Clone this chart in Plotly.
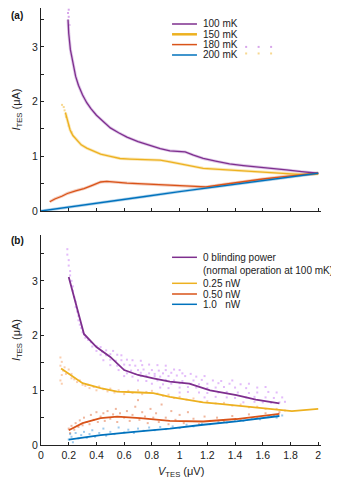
import plotly.graph_objects as go

# ---- panel (a): I-V curves at four bath temperatures ----
a_names = ["100 mK", "150 mK", "180 mK", "200 mK"]

a100_x = [0.195, 0.2, 0.212, 0.23, 0.25, 0.27, 0.3, 0.33, 0.36, 0.4, 0.45, 0.5, 0.56, 0.62, 0.7,
          0.78, 0.86, 0.93, 1.0, 1.04, 1.1, 1.17, 1.26, 1.36, 1.46, 1.56, 1.66, 1.77, 1.88, 2.0]
a100_y = [3.5, 3.25, 2.95, 2.68, 2.46, 2.3, 2.12, 1.98, 1.87, 1.75, 1.63, 1.52, 1.43, 1.35, 1.27,
          1.2, 1.14, 1.1, 1.09, 1.08, 1.02, 0.96, 0.91, 0.86, 0.83, 0.8, 0.77, 0.75, 0.72, 0.69]

a150_x = [0.176, 0.19, 0.21, 0.23, 0.257, 0.29, 0.33, 0.38, 0.43, 0.5, 0.57, 0.64, 0.715, 0.79,
          0.86, 0.93, 1.0, 1.07, 1.17, 1.29, 1.41, 1.53, 1.65, 1.76, 1.86, 1.94, 2.0]
a150_y = [1.8, 1.65, 1.48, 1.38, 1.3, 1.21, 1.15, 1.09, 1.04, 1.0, 0.96, 0.95, 0.94, 0.94,
          0.93, 0.9, 0.87, 0.83, 0.78, 0.76, 0.74, 0.72, 0.7, 0.68, 0.67, 0.67, 0.68]

a180_x = [0.063, 0.1, 0.15, 0.19, 0.25, 0.31, 0.37, 0.43, 0.475, 0.55, 0.62, 0.7, 0.786, 0.86,
          0.93, 1.0, 1.07, 1.13, 1.19, 1.3, 1.45, 1.6, 1.75, 1.9, 2.0]
a180_y = [0.17, 0.22, 0.27, 0.32, 0.37, 0.41, 0.47, 0.53, 0.54, 0.52, 0.51, 0.5, 0.49, 0.48,
          0.47, 0.465, 0.46, 0.45, 0.44, 0.48, 0.535, 0.585, 0.63, 0.665, 0.69]

a200_x = [0.0, 0.25, 0.5, 0.75, 1.0, 1.25, 1.5, 1.75, 2.0]
a200_y = [0.0, 0.085, 0.175, 0.265, 0.355, 0.44, 0.525, 0.61, 0.69]

# loose measurement points in (a)
a100_pts_x = [0.19, 0.19, 0.195, 0.2, 0.2, 0.205, 1.48, 1.57, 1.66]
a100_pts_y = [3.83, 3.75, 3.62, 3.55, 3.68, 3.4, 3.0, 3.0, 3.0]
a150_pts_x = [0.152, 0.164, 0.17, 0.18, 0.2, 0.22, 1.48, 1.57, 1.66]
a150_pts_y = [1.94, 1.9, 1.84, 1.72, 1.56, 1.44, 2.88, 2.88, 2.88]

# ---- panel (b): I-V curves under blinding power ----
b_names = ["0 blinding power", "0.25 nW", "0.50 nW", "1.0\u00a0\u00a0\u00a0nW"]

b0_x = [0.2, 0.31, 0.4, 0.5, 0.6, 0.7, 0.81, 0.93, 1.07, 1.22, 1.41, 1.55, 1.72]
b0_y = [3.07, 2.03, 1.79, 1.61, 1.37, 1.28, 1.22, 1.16, 1.12, 1.0, 0.91, 0.83, 0.76]

b25_x = [0.145, 0.21, 0.3, 0.43, 0.55, 0.715, 0.81, 0.93, 1.07, 1.17, 1.29, 1.53, 1.81, 2.0]
b25_y = [1.4, 1.28, 1.13, 1.04, 0.975, 0.96, 0.95, 0.88, 0.82, 0.78, 0.75, 0.69, 0.62, 0.66]

b50_x = [0.2, 0.3, 0.43, 0.55, 0.715, 0.93, 1.17, 1.41, 1.72]
b50_y = [0.27, 0.4, 0.49, 0.52, 0.49, 0.44, 0.43, 0.475, 0.57]

b100_x = [0.2, 0.43, 0.67, 0.93, 1.17, 1.41, 1.72]
b100_y = [0.1, 0.18, 0.24, 0.3, 0.37, 0.43, 0.53]

# raw points in (b)
b0_pts_x = [0.19, 0.19, 0.2, 0.2, 0.21, 0.21, 0.22, 0.23, 0.23, 0.24, 0.25, 0.25, 0.26, 0.27, 0.27,
            0.28, 0.29, 0.3, 0.31, 0.32, 0.34, 0.36,
            0.37, 0.4, 0.43,
            0.4, 0.44, 0.47, 0.52,
            0.43, 0.47, 0.5, 0.55, 0.58,
            0.45, 0.5, 0.54, 0.58, 0.62, 0.66, 0.72,
            0.5, 0.55, 0.6, 0.64, 0.68, 0.73, 0.78, 0.84, 0.9,
            0.56, 0.6, 0.65, 0.7, 0.74, 0.8, 0.85, 0.9, 0.96, 1.0,
            0.62, 0.68, 0.72, 0.78, 0.82, 0.88, 0.94, 1.02, 1.08,
            0.6, 0.66, 0.72, 0.76, 0.82, 0.86, 0.92, 0.98, 1.04, 1.12, 1.18,
            0.7, 0.76, 0.84, 0.9, 0.96, 1.02, 1.1, 1.16, 1.24, 1.3, 1.38,
            0.8, 0.88, 0.94, 1.0, 1.08, 1.14, 1.2, 1.28, 1.36, 1.44, 1.5,
            0.86, 0.92, 1.0, 1.06, 1.12, 1.2, 1.26, 1.32, 1.4, 1.48, 1.56, 1.62,
            1.0, 1.06, 1.14, 1.2, 1.28, 1.34, 1.42, 1.5, 1.56, 1.64, 1.7,
            1.18, 1.26, 1.34, 1.4, 1.48, 1.54, 1.62, 1.68, 1.74,
            1.46, 1.54, 1.6, 1.66, 1.72, 1.76]
b0_pts_y = [3.58, 3.48, 3.38, 3.28, 3.18, 3.1, 3.0, 2.9, 2.82, 2.7, 2.62, 2.52, 2.44, 2.36, 2.28,
            2.2, 2.14, 2.06, 2.02, 1.96, 1.92, 1.88,
            1.8, 1.81, 1.79,
            1.72, 1.71, 1.73, 1.72,
            1.65, 1.64, 1.66, 1.65, 1.64,
            1.55, 1.56, 1.54, 1.55, 1.56, 1.55, 1.54,
            1.46, 1.45, 1.47, 1.46, 1.45, 1.46, 1.47, 1.46, 1.45,
            1.37, 1.38, 1.36, 1.37, 1.38, 1.37, 1.36, 1.37, 1.38, 1.37,
            1.31, 1.3, 1.32, 1.31, 1.3, 1.31, 1.32, 1.31, 1.3,
            1.26, 1.25, 1.26, 1.27, 1.26, 1.25, 1.26, 1.27, 1.26, 1.25, 1.26,
            1.18, 1.17, 1.18, 1.19, 1.18, 1.17, 1.18, 1.19, 1.18, 1.17, 1.18,
            1.12, 1.11, 1.12, 1.13, 1.12, 1.11, 1.12, 1.13, 1.12, 1.11, 1.12,
            1.05, 1.04, 1.05, 1.06, 1.05, 1.04, 1.05, 1.06, 1.05, 1.04, 1.05, 1.06,
            0.96, 0.97, 0.96, 0.95, 0.96, 0.97, 0.96, 0.95, 0.96, 0.97, 0.96,
            0.87, 0.88, 0.87, 0.86, 0.87, 0.88, 0.87, 0.86, 0.87,
            0.78, 0.79, 0.78, 0.77, 0.78, 0.79]

b25_pts_x = [0.14, 0.15, 0.14, 0.16, 0.15, 0.14, 0.15, 0.17, 0.18, 0.2, 0.22, 0.24, 0.22, 0.26,
             0.28, 0.3, 0.32, 0.34, 0.35, 0.38, 0.4, 0.42, 0.45, 0.48, 0.5, 0.53, 0.56, 0.6,
             0.63, 0.66, 0.7, 0.73, 0.76, 0.8, 0.84, 0.88, 0.92, 0.96, 1.0, 1.05, 1.1, 1.15,
             1.2, 1.26, 1.32, 1.38, 1.44, 1.5, 1.56, 1.62, 1.7, 1.76]
b25_pts_y = [1.6, 1.52, 1.45, 1.36, 1.28, 1.18, 1.12, 1.42, 1.3, 1.38, 1.3, 1.2, 1.22, 1.15,
             1.18, 1.1, 1.08, 1.1, 1.04, 1.06, 1.0, 1.07, 1.02, 0.98, 1.03, 0.96, 1.0, 0.93,
             0.99, 0.95, 1.0, 0.93, 0.97, 0.99, 0.94, 0.9, 0.92, 0.86, 0.88, 0.83, 0.85, 0.79,
             0.8, 0.76, 0.77, 0.72, 0.74, 0.69, 0.7, 0.66, 0.66, 0.63]

b50_pts_x = [0.2, 0.21, 0.22, 0.24, 0.25, 0.27, 0.28, 0.3, 0.31, 0.33, 0.35, 0.36, 0.38, 0.4,
             0.41, 0.43, 0.45, 0.46, 0.48, 0.5, 0.52, 0.54, 0.55, 0.57, 0.6, 0.62, 0.64, 0.66,
             0.68, 0.7, 0.71, 0.73, 0.75, 0.77, 0.79, 0.81, 0.83, 0.85, 0.87, 0.9, 0.92, 0.94,
             0.97, 1.0, 1.03, 1.06, 1.1, 1.14, 1.18, 1.22, 1.27, 1.32, 1.38, 1.44, 1.5, 1.56,
             1.62, 1.68, 1.72]
b50_pts_y = [0.3, 0.22, 0.35, 0.28, 0.4, 0.33, 0.45, 0.36, 0.5, 0.42, 0.38, 0.55, 0.46, 0.6,
             0.42, 0.52, 0.58, 0.44, 0.62, 0.48, 0.56, 0.66, 0.42, 0.58, 0.5, 0.62, 0.44, 0.55,
             0.7, 0.82, 0.46, 0.6, 0.52, 0.4, 0.66, 0.5, 0.58, 0.42, 0.74, 0.5, 0.38, 0.62,
             0.46, 0.55, 0.4, 0.6, 0.48, 0.38, 0.52, 0.44, 0.5, 0.42, 0.53, 0.47, 0.56, 0.5,
             0.58, 0.54, 0.6]

b100_pts_x = [0.2, 0.21, 0.22, 0.23, 0.25, 0.27, 0.29, 0.31, 0.33, 0.35, 0.37, 0.39, 0.42, 0.45,
              0.47, 0.5, 0.53, 0.56, 0.6, 0.63, 0.67, 0.7, 0.74, 0.78, 0.82, 0.86, 0.9, 0.95,
              1.0, 1.05, 1.1, 1.16, 1.22, 1.28, 1.34, 1.4, 1.46, 1.52, 1.58, 1.64, 1.7, 1.74]
b100_pts_y = [0.1, 0.2, 0.15, 0.05, 0.22, 0.12, 0.18, 0.24, 0.13, 0.2, 0.27, 0.15, 0.22, 0.3,
              0.17, 0.24, 0.2, 0.32, 0.23, 0.28, 0.22, 0.3, 0.26, 0.32, 0.27, 0.33, 0.29, 0.34,
              0.31, 0.37, 0.34, 0.39, 0.38, 0.42, 0.41, 0.45, 0.44, 0.48, 0.47, 0.51, 0.5, 0.54]

purple = "#7E2F8E"
yellow = "#EDB120"
orange = "#D95319"
blue = "#0072BD"
font = "Liberation Sans, Arial, sans-serif"

# the page puts the plot 8 px in from the top-left corner, so the figure is
# made 8 px smaller and everything is laid out 8 px up/left
W, H = 331, 474
ML, MR, MB = 32.5, 17.5, 37
PH = H - MB  # plot-area height in px


def py(ref_y):
    # paper y for a pixel row measured on the reference picture
    return (PH - (ref_y - 8)) / PH


fig = go.Figure()

# (a) soft bands + lines
a_lines = [(a100_x, a100_y, purple, "rgba(150,70,180,0.3)"),
           (a150_x, a150_y, yellow, "rgba(240,185,50,0.35)"),
           (a180_x, a180_y, orange, "rgba(217,83,25,0.3)"),
           (a200_x, a200_y, blue, "rgba(0,114,189,0.3)")]
for lx, ly, c, soft in a_lines:
    fig.add_trace(go.Scatter(x=lx, y=ly, mode="lines", line=dict(color=soft, width=3),
                             showlegend=False, hoverinfo="skip", xaxis="x", yaxis="y"))
fig.add_trace(go.Scatter(x=a100_pts_x, y=a100_pts_y, mode="markers",
                         marker=dict(color="#D7A6EA", size=2, symbol="square"),
                         showlegend=False, xaxis="x", yaxis="y"))
fig.add_trace(go.Scatter(x=a150_pts_x, y=a150_pts_y, mode="markers",
                         marker=dict(color="#F7D890", size=2, symbol="square"),
                         showlegend=False, xaxis="x", yaxis="y"))
for (lx, ly, c, soft), nm in zip(a_lines, a_names):
    fig.add_trace(go.Scatter(x=lx, y=ly, mode="lines", name=nm, line=dict(color=c, width=1.3),
                             showlegend=False, xaxis="x", yaxis="y"))

# (b) raw points then lines
b_pts = [(b0_pts_x, b0_pts_y, "rgba(200,120,245,0.5)"),
         (b25_pts_x, b25_pts_y, "rgba(245,165,110,0.55)"),
         (b50_pts_x, b50_pts_y, "rgba(225,110,60,0.5)"),
         (b100_pts_x, b100_pts_y, "rgba(60,150,220,0.5)")]
for px, pyy, c in b_pts:
    fig.add_trace(go.Scatter(x=px, y=pyy, mode="markers", marker=dict(color=c, size=2, symbol="square"),
                             showlegend=False, xaxis="x2", yaxis="y2"))
b_lines = [(b0_x, b0_y, purple), (b25_x, b25_y, yellow), (b50_x, b50_y, orange), (b100_x, b100_y, blue)]
for (lx, ly, c), nm in zip(b_lines, b_names):
    fig.add_trace(go.Scatter(x=lx, y=ly, mode="lines", name=nm, line=dict(color=c, width=1.8),
                             showlegend=False, xaxis="x2", yaxis="y2"))

axis_common = dict(showline=True, linecolor="#222", linewidth=1, ticks="inside", ticklen=3,
                   tickcolor="#222", showgrid=False, zeroline=False, automargin=False,
                   tickfont=dict(family=font, size=10.5, color="#222"))
ytitle = dict(text="<i>I</i><sub>TES</sub> (μA)", font=dict(family=font, size=11, color="#222"),
              standoff=9)

fig.update_layout(
    width=W, height=H,
    margin=dict(l=ML, r=MR, t=0, b=MB),
    plot_bgcolor="white", paper_bgcolor="white",
    font=dict(family=font, color="#222"),
    xaxis=dict(domain=[0, 1], range=[0, 2.02], dtick=0.2, tick0=0, showticklabels=False,
               anchor="y", **axis_common),
    yaxis=dict(domain=[py(211), 1], range=[0, 203 / 54.7], tickvals=[0, 1, 2, 3], anchor="x",
               minor=dict(dtick=0.5, tick0=0, ticks="inside", ticklen=3, tickcolor="#222"),
               title=ytitle, **axis_common),
    xaxis2=dict(domain=[0, 1], range=[0, 2.02], dtick=0.2, tick0=0, anchor="y2", **axis_common),
    yaxis2=dict(domain=[0, py(235)], range=[0, 3.839], tickvals=[0, 1, 2, 3], anchor="x2",
                minor=dict(dtick=0.5, tick0=0, ticks="inside", ticklen=3, tickcolor="#222"),
                title=ytitle, **axis_common),
)

# x-axis title for (b), placed just under the tick labels
fig.add_annotation(text="<i>V</i><sub>TES</sub> (μV)", xref="paper", yref="paper", x=0.5, y=py(472),
                   xanchor="center", yanchor="middle", showarrow=False,
                   font=dict(family=font, size=11, color="#222"))

# panel labels
fig.add_annotation(text="<b>(a)</b>", xref="paper", yref="paper", x=-ML / 281, y=1,
                   xanchor="left", yanchor="top", showarrow=False,
                   font=dict(family=font, size=10, color="#111"))
fig.add_annotation(text="<b>(b)</b>", xref="paper", yref="paper", x=-ML / 281, y=py(241),
                   xanchor="left", yanchor="middle", showarrow=False,
                   font=dict(family=font, size=10, color="#111"))


# hand-drawn legends (paper coordinates)
def legend_row(text, ref_y, color=None, width=1.5):
    y = py(ref_y)
    if color:
        fig.add_shape(type="line", xref="paper", yref="paper", x0=0.468, x1=0.557, y0=y, y1=y,
                      line=dict(color=color, width=width))
    fig.add_annotation(text=text, xref="paper", yref="paper", x=0.572, y=y, xanchor="left",
                       yanchor="middle", showarrow=False, font=dict(family=font, size=10, color="#222"))


for nm, ry, c in zip(a_names, [24, 34.3, 44.6, 55], [purple, yellow, orange, blue]):
    legend_row(nm, ry, c, 2.5 if c == yellow else 1.5)

legend_row(b_names[0], 257.3, purple)
legend_row("(normal operation at 100 mK)", 270.7)
legend_row(b_names[1], 283.3, yellow)
legend_row(b_names[2], 294, orange)
legend_row(b_names[3], 304.3, blue)

fig.write_html("out.html")
